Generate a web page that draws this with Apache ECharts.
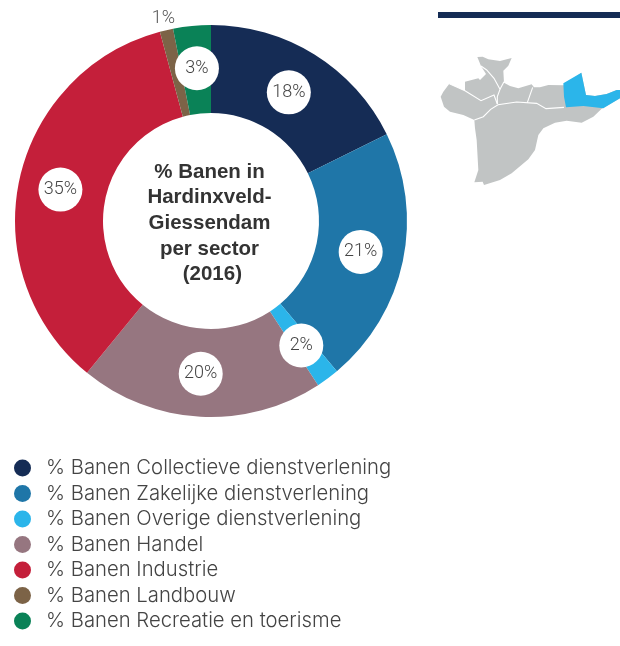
<!DOCTYPE html>
<html><head><meta charset="utf-8">
<style>html,body{margin:0;padding:0;background:#fff}#c{width:620px;height:646px}</style>
<script src="https://cdn.jsdelivr.net/npm/echarts@6/dist/echarts.min.js"></script>
</head><body><div id="c"></div>
<script>
const sectors = ['% Banen Collectieve dienstverlening','% Banen Zakelijke dienstverlening','% Banen Overige dienstverlening','% Banen Handel','% Banen Industrie','% Banen Landbouw','% Banen Recreatie en toerisme'];
const values = [17.7,21.2,1.9,20.1,34.9,1.1,3.1];
const colors = ['#152c55','#1f76a8','#2bb5ea','#967680','#c41f3a','#7c6347','#0a8257'];
const centerTitle = '% Banen in\nHardinxveld-\nGiessendam\nper sector\n (2016)';
// Decorative locator map, outline traced in 3x zoom units
const mapOutline = [172,171,188,170,205,178,240,183,275,174,265,197,250,212,252,248,270,258,295,265,335,253,342,262,360,262,385,255,432,256,484,218,498,285,525,288,560,282,590,270,600,270,600,295,545,326,520,350,485,368,440,362,405,368,370,385,355,405,345,450,325,478,275,520,240,540,192,555,188,545,163,547,175,510,170,420,165,385,163,360,130,345,90,335,72,320,62,290,70,275,88,251,135,272,135,245,175,235,180,240,198,222,183,198];
const mapLines = [
 [88,251,135,272,183,302,222,285,232,312],
 [183,198,200,210,222,235,240,268,232,290,232,312],
 [163,360,190,350,212,328,234,314,290,306,350,310,378,326,432,322],
 [252,245,240,268],
 [338,262,322,308]
];
const mapBlue = [430,250,484,218,498,285,525,288,560,282,590,270,600,270,600,295,550,325,490,318,438,322,432,290];
const labelNudges = [[-4,3],[-2,-1],[-2,0],[-2,-2],[1,1],[10,-6],[1,1.5]];

function pts(a){const r=[];for(let i=0;i<a.length;i+=2)r.push([420+a[i]/3,a[i+1]/3]);return r;}
const graphics = [{type:'rect',shape:{x:438,y:12,width:182,height:6},style:{fill:'#152c55'}}];
graphics.push({type:'polygon',shape:{points:pts(mapOutline)},style:{fill:'#c1c4c4'}});
mapLines.forEach(p=>graphics.push({type:'polyline',shape:{points:pts(p)},style:{fill:null,stroke:'#fff',lineWidth:1.1}}));
graphics.push({type:'polygon',shape:{points:pts(mapBlue)},style:{fill:'#2bb5ea'}});

const chart = echarts.init(document.getElementById('c'),null,{renderer:'canvas'});
chart.setOption({
  animation:false,
  backgroundColor:'#fff',
  color:colors,
  title:{text:centerTitle,left:209.5,top:159,padding:0,textAlign:'center',
    textStyle:{fontFamily:'Liberation Sans',fontWeight:'bold',fontSize:20.5,lineHeight:25.7,color:'#333'}},
  legend:{orient:'vertical',left:14,top:458,padding:0,height:188,width:600,itemWidth:17,itemHeight:17,itemGap:5.5,icon:'circle',selectedMode:false,
    data:sectors,textStyle:{fontFamily:'Inter',fontWeight:300,fontSize:20.3,lineHeight:17,color:'#444',padding:[0,0,0,10]}},
  graphic:graphics,
  series:[{type:'pie',radius:[108,196],center:[211,221],startAngle:90,clockwise:true,avoidLabelOverlap:false,silent:true,
    label:{show:true,position:'inside',formatter:p=>Math.round(p.value)+'%',
      fontFamily:'Roboto',fontWeight:300,fontSize:18,color:'#444',backgroundColor:'#fff',
      width:44,height:44,lineHeight:44,borderRadius:22,align:'center',verticalAlign:'middle'},
    labelLine:{show:false},
    labelLayout:p=>({dx:labelNudges[p.dataIndex][0],dy:labelNudges[p.dataIndex][1]}),
    data:sectors.map((n,i)=>{
      const d={name:n,value:values[i]};
      if(i===5){d.label={position:'outside',backgroundColor:'transparent',width:null,height:null,lineHeight:20,distanceToLabelLine:0,color:'#555'};d.labelLine={show:false,length:6,length2:0};}
      return d;
    })
  }]
});
</script></body></html>
